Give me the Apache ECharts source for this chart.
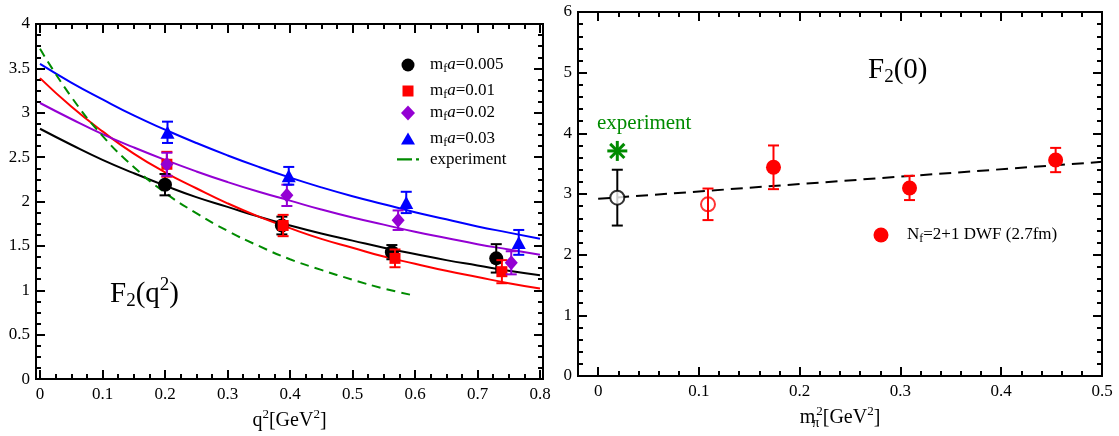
<!DOCTYPE html>
<html><head><meta charset="utf-8">
<script src="https://cdn.jsdelivr.net/npm/echarts@6/dist/echarts.min.js"></script>
<style>html,body{margin:0;padding:0;background:#fff}#c{width:1119px;height:436px}</style>
</head><body><div id="c"></div>
<script>
const FONT = 'Liberation Serif';
// ---------- Left panel: F2(q^2) ----------
const q2Fit   = [0,0.05,0.1,0.15,0.2,0.25,0.3,0.35,0.4,0.45,0.5,0.55,0.6,0.65,0.7,0.75,0.8];
const fit005  = [2.82,2.64,2.47,2.32,2.18,2.05,1.94,1.83,1.73,1.64,1.56,1.48,1.41,1.34,1.28,1.22,1.17];
const fit01   = [3.39,3.07,2.79,2.54,2.33,2.15,1.98,1.83,1.70,1.58,1.48,1.38,1.30,1.22,1.15,1.08,1.02];
const fit02   = [3.11,2.93,2.76,2.61,2.47,2.34,2.22,2.11,2.01,1.91,1.82,1.74,1.66,1.59,1.52,1.46,1.40];
const fit03   = [3.55,3.34,3.15,2.97,2.81,2.66,2.52,2.39,2.27,2.16,2.06,1.97,1.88,1.80,1.72,1.65,1.58];
const q2Exp   = [0,0.05,0.1,0.15,0.2,0.25,0.3,0.35,0.4,0.45,0.5,0.55,0.6];
const expCurve= [3.72,3.18,2.74,2.39,2.10,1.87,1.67,1.50,1.35,1.23,1.12,1.02,0.94];

const q2_005 = [0.200,0.387,0.563,0.730];
const F_005  = [2.19,1.73,1.43,1.36];
const E_005  = [0.12,0.10,0.08,0.16];
const q2_01  = [0.203,0.389,0.568,0.739];
const F_01   = [2.42,1.73,1.36,1.21];
const E_01   = [0.14,0.12,0.10,0.13];
const q2_02  = [0.203,0.395,0.573,0.754];
const F_02   = [2.42,2.07,1.79,1.31];
const E_02   = [0.13,0.12,0.11,0.13];
const q2_03  = [0.204,0.398,0.586,0.766];
const F_03   = [2.78,2.29,1.99,1.54];
const E_03   = [0.12,0.10,0.12,0.14];

const xMajorL = [0,0.1,0.2,0.3,0.4,0.5,0.6,0.7,0.8];
const xMinorL = [0.025,0.05,0.075,0.125,0.15,0.175,0.225,0.25,0.275,0.325,0.35,0.375,0.425,0.45,0.475,0.525,0.55,0.575,0.625,0.65,0.675,0.725,0.75,0.775];
const yMajorL = [0,0.5,1,1.5,2,2.5,3,3.5,4];
const yMinorL = [0.125,0.25,0.375,0.625,0.75,0.875,1.125,1.25,1.375,1.625,1.75,1.875,2.125,2.25,2.375,2.625,2.75,2.875,3.125,3.25,3.375,3.625,3.75,3.875];

// ---------- Right panel: F2(0) ----------
const mExp = [0.019], FExp = [3.71];
const mPhys = [0.019], FPhys = [2.94], EPhys = [0.46];
const mOpen = [0.109], FOpen = [2.83], EOpen = [0.26];
const mLat = [0.174,0.309,0.454], FLat = [3.44,3.10,3.56], ELat = [0.36,0.20,0.20];
const mFit = [0,0.5], FFit = [2.92,3.53];

const xMajorR = [0,0.1,0.2,0.3,0.4,0.5];
const xMinorR = [-0.02,0.02,0.04,0.06,0.08,0.12,0.14,0.16,0.18,0.22,0.24,0.26,0.28,0.32,0.34,0.36,0.38,0.42,0.44,0.46,0.48];
const yMajorR = [0,1,2,3,4,5,6];
const yMinorR = [0.2,0.4,0.6,0.8,1.2,1.4,1.6,1.8,2.2,2.4,2.6,2.8,3.2,3.4,3.6,3.8,4.2,4.4,4.6,4.8,5.2,5.4,5.6,5.8];

const GREEN = '#008b00', PURPLE = '#9400d3';
const zip2 = (a,b) => a.map((v,i)=>[v,b[i]]);
const zip3 = (a,b,c) => a.map((v,i)=>[v,b[i],c[i]]);

function axesFor(dim, gi, min, max, major, minor, labelExtra, nameExtra) {
  const pos = dim === 'x' ? ['bottom','top'] : ['left','right'];
  const mk = (p, ticks, len, withLabel) => Object.assign({
    type:'value', gridIndex:gi, min:min, max:max, position:p,
    splitLine:{show:false},
    axisLine:{show:true, onZero:false, lineStyle:{color:'#000', width:2}},
    axisTick:{show:true, inside:true, length:len, customValues:ticks, lineStyle:{color:'#000', width:2}},
    axisLabel: withLabel ? Object.assign({show:true, customValues:ticks, color:'#000', fontFamily:FONT, fontSize:17}, labelExtra) : {show:false}
  }, withLabel && nameExtra ? nameExtra : {});
  return [mk(pos[0], major, 9, true), mk(pos[0], minor, 5, false), mk(pos[1], major, 9, false), mk(pos[1], minor, 5, false)];
}

const nameRich = {
  sup:{fontSize:13, fontFamily:FONT, color:'#000', padding:[0,0,13,0]},
  subz:{fontSize:14, fontFamily:FONT, color:'#000', padding:[11,0,0,0], width:1}
};

const xAxes = [].concat(
  axesFor('x', 0, -0.0064, 0.8048, xMajorL, xMinorL, {margin:7},
    {name:'q{sup|2}[GeV{sup|2}]', nameLocation:'middle', nameGap:24,
     nameTextStyle:{fontFamily:FONT, fontSize:20, color:'#000', rich:nameRich}}),
  axesFor('x', 1, -0.02, 0.5, xMajorR, xMinorR, {margin:7},
    {name:'m{subz|π}{sup|2}[GeV{sup|2}]', nameLocation:'middle', nameGap:24,
     nameTextStyle:{fontFamily:FONT, fontSize:20, color:'#000', rich:nameRich}})
);
const yAxes = [].concat(
  axesFor('y', 0, 0, 4, yMajorL, yMinorL, {margin:6}),
  axesFor('y', 1, 0, 6, yMajorR, yMinorR, {margin:6})
);

function errBars(color, cap) {
  return function(params, api) {
    const x = api.value(0), y = api.value(1), e = api.value(2);
    const t = api.coord([x, y + e]), b = api.coord([x, y - e]);
    const st = {stroke:color, lineWidth:2};
    return {type:'group', children:[
      {type:'line', shape:{x1:t[0], y1:t[1], x2:b[0], y2:b[1]}, style:st},
      {type:'line', shape:{x1:t[0]-cap, y1:t[1], x2:t[0]+cap, y2:t[1]}, style:st},
      {type:'line', shape:{x1:b[0]-cap, y1:b[1], x2:b[0]+cap, y2:b[1]}, style:st}
    ]};
  };
}
function errSeries(xi, yi, data, color, z) {
  return {type:'custom', xAxisIndex:xi, yAxisIndex:yi, data:data, renderItem:errBars(color, 5.5), z:z, silent:true};
}
function fitSeries(name, xs, ys, color, dash) {
  return {type:'line', name:name, xAxisIndex:0, yAxisIndex:0, data:zip2(xs, ys), smooth:true, symbol:'none',
    lineStyle:{color:color, width:2, type: dash || 'solid'}, itemStyle:{color:color}, z:2, silent:true};
}
function ptSeries(name, xs, ys, color, symbol, size, z) {
  return {type:'scatter', name:name, xAxisIndex:0, yAxisIndex:0, data:zip2(xs, ys), symbol:symbol, symbolSize:size,
    itemStyle:{color:color, opacity:1}, z:z, silent:true};
}

const legendLabels = {
  'a005':'m{sub|f}{it|a}=0.005', 'a01':'m{sub|f}{it|a}=0.01', 'a02':'m{sub|f}{it|a}=0.02', 'a03':'m{sub|f}{it|a}=0.03',
  'experiment':'experiment', 'lat':'N{sub|f}=2+1 DWF (2.7fm)'
};
const legRich = {
  sub:{fontSize:12, fontFamily:FONT, color:'#000', padding:[8,0,0,0]},
  it:{fontSize:17, fontFamily:FONT, fontStyle:'italic', color:'#000'}
};
// one legend row: icon centred at (cx, cy), text starting at textX
function legendRow(item, w, h, cx, cy, textX) {
  const left = cx - w / 2;
  return {data:[item], orient:'vertical', left:left, top:cy - h / 2, padding:0,
    itemWidth:w, itemHeight:h, selectedMode:false,
    formatter:n => legendLabels[n],
    textStyle:{fontFamily:FONT, fontSize:17, color:'#000', rich:legRich,
      padding:[0,0,0,Math.max(0, textX - (left + w + 5))]}};
}

const option = {
  animation:false,
  backgroundColor:'#fff',
  grid:[
    {left:36, top:24, width:507, height:357},
    {left:578, top:12, width:524, height:364}
  ],
  xAxis:xAxes,
  yAxis:yAxes,
  title:[
    {text:'F{sub|2}(q{sup|2})', left:110, top:276, padding:0,
     textStyle:{fontFamily:FONT, fontSize:29, fontWeight:'normal', color:'#000',
       rich:{sub:{fontSize:19, fontFamily:FONT, color:'#000', padding:[15,0,0,0]}, sup:{fontSize:19, fontFamily:FONT, color:'#000', padding:[0,0,17,0]}}}},
    {text:'F{sub|2}(0)', left:868, top:53, padding:0,
     textStyle:{fontFamily:FONT, fontSize:29, fontWeight:'normal', color:'#000',
       rich:{sub:{fontSize:19, fontFamily:FONT, color:'#000', padding:[15,0,0,0]}}}},
    {text:'experiment', left:597, top:113, padding:0,
     textStyle:{fontFamily:FONT, fontSize:21, fontWeight:'normal', color:GREEN}}
  ],
  legend:[
    legendRow('a005', 13, 13, 408, 63, 430),
    legendRow('a01', 11, 11, 408, 88, 430),
    legendRow('a02', 14, 15, 408, 112, 430),
    legendRow('a03', 14, 12, 408, 136, 430),
    legendRow({name:'experiment', icon:'path://M0,0h15v2.2h-15zM19,0h3v2.2h-3z'}, 22, 2.2, 408, 152, 430),
    legendRow('lat', 15, 15, 881, 234, 907)
  ],
  series:[
    fitSeries('fit005', q2Fit, fit005, '#000'),
    fitSeries('fit01', q2Fit, fit01, '#ff0000'),
    fitSeries('fit02', q2Fit, fit02, PURPLE),
    fitSeries('fit03', q2Fit, fit03, '#0000ff'),
    fitSeries('experiment', q2Exp, expCurve, GREEN, [9,6]),
    errSeries(0,0, zip3(q2_005,F_005,E_005), '#000', 5),
    ptSeries('a005', q2_005, F_005, '#000', 'circle', 14, 6),
    errSeries(0,0, zip3(q2_01,F_01,E_01), '#ff0000', 7),
    ptSeries('a01', q2_01, F_01, '#ff0000', 'rect', 11, 8),
    errSeries(0,0, zip3(q2_02,F_02,E_02), PURPLE, 9),
    ptSeries('a02', q2_02, F_02, PURPLE, 'diamond', [13,15], 10),
    errSeries(0,0, zip3(q2_03,F_03,E_03), '#0000ff', 11),
    ptSeries('a03', q2_03, F_03, '#0000ff', 'triangle', [14,13], 12),
    // right panel
    {type:'line', name:'fitR', xAxisIndex:4, yAxisIndex:4, data:zip2(mFit,FFit), symbol:'none',
     lineStyle:{color:'#000', width:2, type:[12,7]}, z:2, silent:true},
    errSeries(4,4, zip3(mPhys,FPhys,EPhys), '#000', 5),
    {type:'scatter', name:'phys', xAxisIndex:4, yAxisIndex:4, data:zip2(mPhys,FPhys), symbol:'circle', symbolSize:14,
     itemStyle:{color:'#fff', borderColor:'#000', borderWidth:2}, z:6, silent:true},
    errSeries(4,4, zip3(mOpen,FOpen,EOpen), '#ff0000', 5),
    {type:'scatter', name:'open', xAxisIndex:4, yAxisIndex:4, data:zip2(mOpen,FOpen), symbol:'circle', symbolSize:14,
     itemStyle:{color:'rgba(255,255,255,0)', borderColor:'#ff0000', borderWidth:2}, z:6, silent:true},
    errSeries(4,4, zip3(mLat,FLat,ELat), '#ff0000', 5),
    {type:'scatter', name:'lat', xAxisIndex:4, yAxisIndex:4, data:zip2(mLat,FLat), symbol:'circle', symbolSize:15,
     itemStyle:{color:'#ff0000', opacity:1}, z:6, silent:true},
    {type:'custom', name:'star', xAxisIndex:4, yAxisIndex:4, data:zip2(mExp,FExp), z:7, silent:true,
     renderItem:function(params, api){
       const c = api.coord([api.value(0), api.value(1)]);
       const r = 10, d = 7.1;
       const st = {stroke:GREEN, lineWidth:3};
       return {type:'group', children:[
         {type:'line', shape:{x1:c[0], y1:c[1]-r, x2:c[0], y2:c[1]+r}, style:st},
         {type:'line', shape:{x1:c[0]-r, y1:c[1], x2:c[0]+r, y2:c[1]}, style:st},
         {type:'line', shape:{x1:c[0]-d, y1:c[1]-d, x2:c[0]+d, y2:c[1]+d}, style:st},
         {type:'line', shape:{x1:c[0]-d, y1:c[1]+d, x2:c[0]+d, y2:c[1]-d}, style:st}
       ]};
     }}
  ]
};
const chart = echarts.init(document.getElementById('c'), null, {renderer:'canvas'});
chart.setOption(option);
</script>
</body></html>
